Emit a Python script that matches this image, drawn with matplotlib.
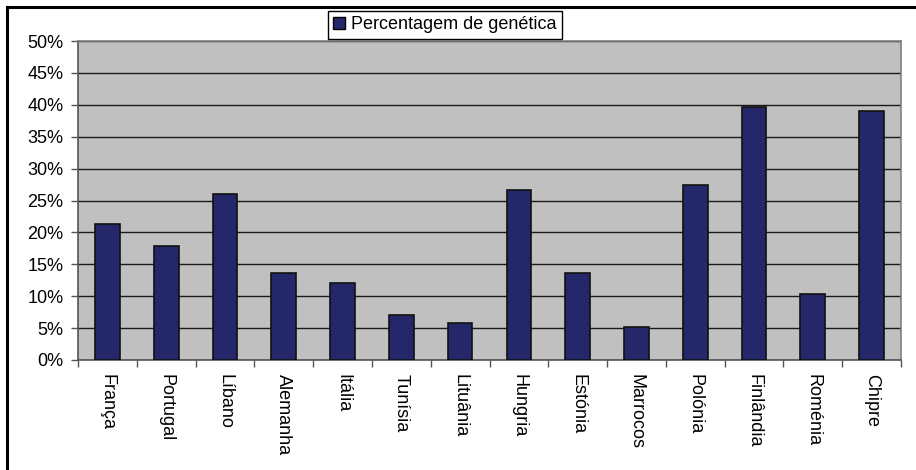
import matplotlib
matplotlib.use("Agg")
import matplotlib.pyplot as plt
from matplotlib.lines import Line2D
import numpy as np

plt.rcParams['font.family'] = ['Liberation Sans', 'DejaVu Sans']

countries = ["França", "Portugal", "Líbano", "Alemanha", "Itália", "Tunísia",
             "Lituânia", "Hungria", "Estónia", "Marrocos", "Polónia",
             "Finlândia", "Roménia", "Chipre"]
percent = [21.3, 17.9, 26.0, 13.7, 12.1, 7.1, 5.8, 26.6, 13.7, 5.2, 27.4,
           39.7, 10.3, 39.0]
series_label = "Percentagem de genética"
y_ticks = [0, 5, 10, 15, 20, 25, 30, 35, 40, 45, 50]

fig = plt.figure(figsize=(9.16, 4.70), dpi=100)
ax = fig.add_axes([78 / 916, 1 - 360 / 470, 823 / 916, 319 / 470])
ax.set_facecolor("#C0C0C0")

x = np.arange(len(countries))
ax.bar(x, percent, width=0.42, color="#25276B", edgecolor="#111111",
       linewidth=1.2, label=series_label, zorder=3)

ax.set_xlim(-0.5, len(countries) - 0.5)
ax.set_ylim(0, 50)
ax.set_yticks(y_ticks)
ax.set_yticklabels([f"{v}%" for v in y_ticks], fontsize=13)
ax.yaxis.grid(True, color="#1a1a1a", linewidth=1.0, zorder=1)
ax.set_axisbelow(True)

# category labels at bar centres, tick marks on category boundaries
ax.set_xticks(x)
ax.set_xticklabels(countries, rotation=-90, fontsize=13, va="top", ha="center")
ax.tick_params(axis="x", which="major", length=0, pad=10)
ax.set_xticks(np.arange(-0.5, len(countries)), minor=True)
ax.tick_params(axis="x", which="minor", length=5, direction="out",
               color="#555555", width=1.0)
ax.tick_params(axis="y", length=5, direction="out", color="#555555",
               width=1.0, pad=5.5)

for side in ["top", "right"]:
    ax.spines[side].set_color("#808080")
    ax.spines[side].set_linewidth(1.2)
for side in ["left", "bottom"]:
    ax.spines[side].set_color("#555555")
    ax.spines[side].set_linewidth(1.2)

leg = fig.legend(loc="upper left", bbox_to_anchor=(328 / 916, 1 - 11 / 470),
                 fontsize=13, frameon=True, fancybox=False, edgecolor="black",
                 framealpha=1, handlelength=0.65, handleheight=0.65,
                 handletextpad=0.35, borderpad=0.3, borderaxespad=0)
leg.get_frame().set_linewidth(1.0)
for h in leg.legend_handles:
    h.set_edgecolor("black")
    h.set_linewidth(1.0)

# outer chart frame (top and left edges)
fig.add_artist(Line2D([7 / 916, 1], [1 - 7 / 470, 1 - 7 / 470],
                      transform=fig.transFigure, color="black", linewidth=2.2))
fig.add_artist(Line2D([7 / 916, 7 / 916], [0, 1 - 7 / 470],
                      transform=fig.transFigure, color="black", linewidth=2.2))

fig.savefig("out.png", dpi=100)
